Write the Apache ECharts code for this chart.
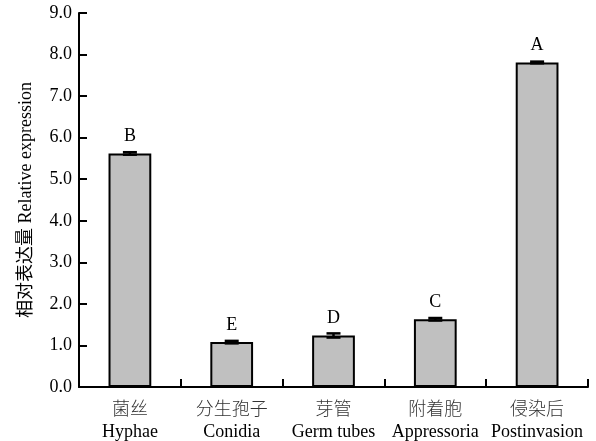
<!DOCTYPE html>
<html><head><meta charset="utf-8">
<script src="https://cdn.jsdelivr.net/npm/echarts@6/dist/echarts.min.js"></script>
<style>html,body{margin:0;padding:0;background:#fff}#c{width:596px;height:441px}</style>
</head><body><div id="c"></div>
<script>
const categoriesCN = ['菌丝','分生孢子','芽管','附着胞','侵染后'];
const categoriesEN = ['Hyphae','Conidia','Germ tubes','Appressoria','Postinvasion'];
const values = [5.62, 1.08, 1.24, 1.63, 7.81];
const errors = [0.03, 0.03, 0.05, 0.03, 0.02];
const letters = ['B','E','D','C','A'];

const serif = '"Liberation Serif","Times New Roman",serif';
const chart = echarts.init(document.getElementById('c'));
chart.setOption({
  animation:false,
  grid:{left:79,right:8,top:13,bottom:54,containLabel:false},
  xAxis:{type:'category',data:categoriesCN.map((c,i)=>c+'\n'+categoriesEN[i]),
    axisLine:{lineStyle:{color:'#000',width:2}},
    axisTick:{show:true,inside:true,length:8,interval:0,alignWithLabel:false,lineStyle:{color:'#000',width:2}},
    axisLabel:{interval:0,margin:9,formatter:(v,i)=>'{cn|'+categoriesCN[i]+'}\n{en|'+categoriesEN[i]+'}',
      rich:{cn:{fontFamily:'"Noto Sans CJK SC",sans-serif',fontSize:18,color:'#333',lineHeight:24,fontWeight:300},
            en:{fontFamily:serif,fontSize:18,color:'#000',lineHeight:24}}}},
  yAxis:{type:'value',min:0,max:9,interval:1,
    name:'相对表达量 Relative expression',nameLocation:'middle',nameGap:44,nameRotate:90,
    nameTextStyle:{fontFamily:'"Liberation Serif","Noto Sans CJK SC",serif',fontSize:18,color:'#000'},
    axisLine:{show:true,lineStyle:{color:'#000',width:2}},
    axisTick:{show:true,inside:true,length:8,lineStyle:{color:'#000',width:2}},
    splitLine:{show:false},
    axisLabel:{formatter:v=>v.toFixed(1),fontFamily:serif,fontSize:18,color:'#000',margin:7}},
  series:[
    {type:'bar',data:values,barWidth:'42%',
      itemStyle:{color:'#c0c0c0',borderColor:'#000',borderWidth:2},
      label:{show:true,position:'top',distance:8,formatter:p=>letters[p.dataIndex],
        fontFamily:serif,fontSize:18,color:'#000'}},
    {type:'custom',data:values.map((v,i)=>[i,v-errors[i],v+errors[i]]),z:10,
      renderItem:(params,api)=>{
        const lo=api.coord([api.value(0),api.value(1)]);
        const hi=api.coord([api.value(0),api.value(2)]);
        const hw=7;
        const st={stroke:'#000',lineWidth:2.5};
        return {type:'group',children:[
          {type:'line',shape:{x1:lo[0],y1:lo[1],x2:hi[0],y2:hi[1]},style:st},
          {type:'line',shape:{x1:lo[0]-hw,y1:lo[1],x2:lo[0]+hw,y2:lo[1]},style:st},
          {type:'line',shape:{x1:hi[0]-hw,y1:hi[1],x2:hi[0]+hw,y2:hi[1]},style:st}]};
      }}
  ]
});
</script></body></html>
